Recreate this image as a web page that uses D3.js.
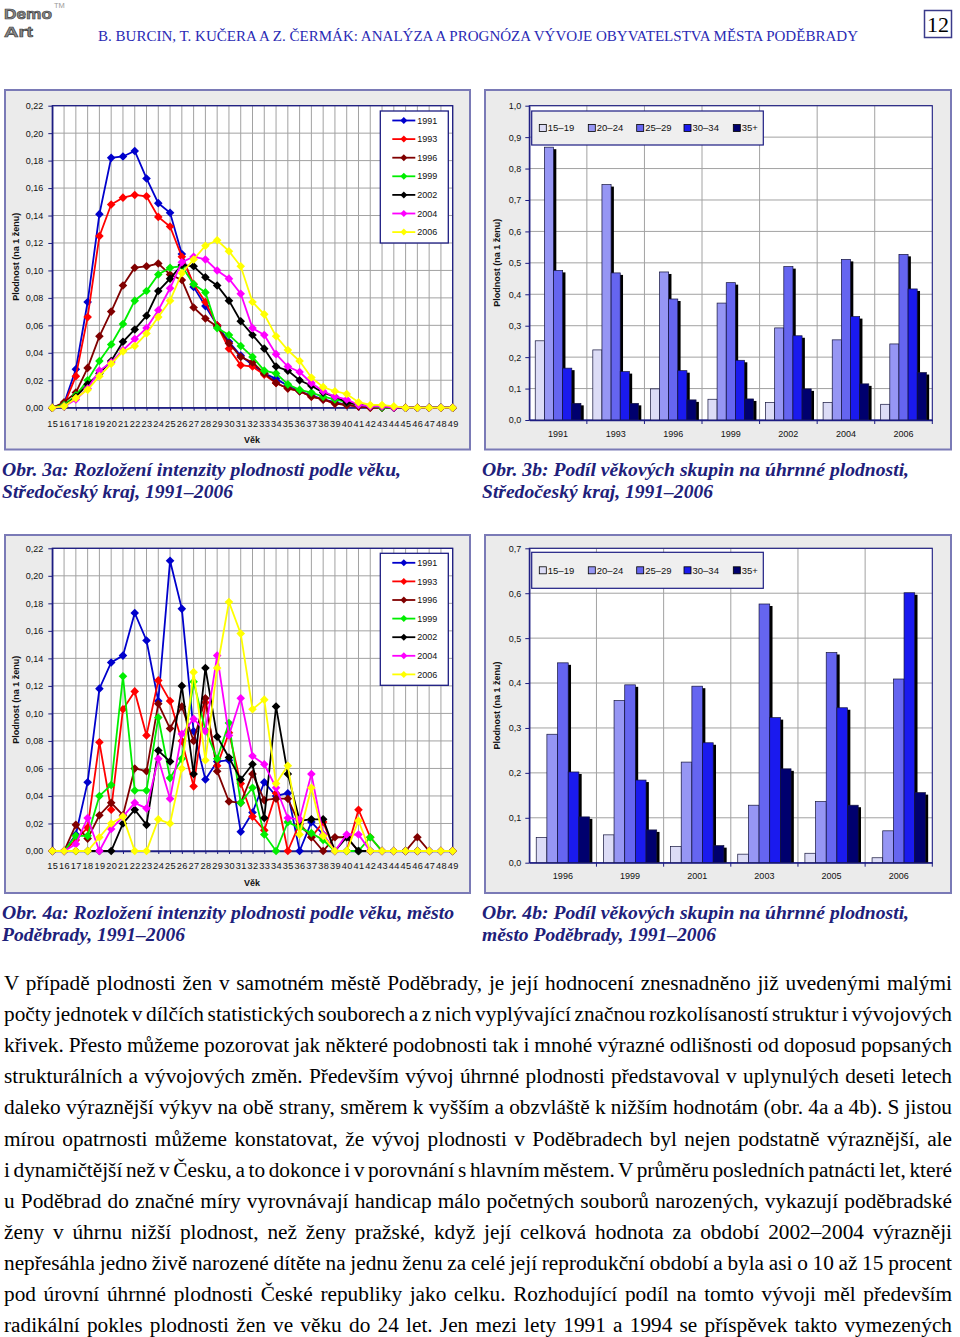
<!DOCTYPE html>
<html><head><meta charset="utf-8">
<script src="https://cdn.jsdelivr.net/npm/d3@7/dist/d3.min.js"></script>
<style>html,body{margin:0;padding:0;background:#fff}svg{display:block}</style>
</head><body>
<svg id="page" width="960" height="1337"></svg>
<script>
// ================= DATA =================
const ages = [15,16,17,18,19,20,21,22,23,24,25,26,27,28,29,30,31,32,33,34,35,36,37,38,39,40,41,42,43,44,45,46,47,48,49];
const lineYears = ["1991","1993","1996","1999","2002","2004","2006"];
const yTicksLine = [0,0.02,0.04,0.06,0.08,0.10,0.12,0.14,0.16,0.18,0.20,0.22];

// Obr. 3a – Středočeský kraj, fertility by age
const kraj1991 = [0,.003,.028,.077,.141,.182,.183,.187,.167,.149,.142,.112,.088,.074,.060,.048,.038,.031,.025,.021,.016,.012,.009,.006,.004,.002,.001,.001,0,0,0,0,0,0,0];
const kraj1993 = [0,.002,.023,.066,.125,.148,.153,.155,.154,.139,.132,.110,.090,.077,.060,.043,.031,.030,.024,.018,.014,.012,.008,.006,.003,.002,.001,0,0,0,0,0,0,0,0];
const kraj1996 = [0,.004,.011,.029,.052,.070,.089,.102,.103,.105,.097,.093,.073,.065,.059,.047,.037,.033,.025,.018,.014,.012,.008,.006,.003,.002,.001,0,0,0,0,0,0,0,0];
const kraj1999 = [0,.002,.009,.020,.034,.046,.061,.078,.085,.097,.102,.103,.090,.084,.058,.053,.045,.037,.027,.025,.017,.013,.011,.008,.006,.004,.002,.001,0,0,0,0,0,0,0];
const kraj2002 = [0,.001,.008,.017,.025,.034,.048,.057,.067,.085,.094,.104,.103,.095,.089,.078,.063,.053,.043,.030,.027,.020,.016,.011,.008,.004,.002,.001,.001,0,0,0,0,0,0];
const kraj2004 = [0,.001,.006,.014,.027,.033,.042,.050,.058,.071,.087,.106,.110,.108,.100,.094,.083,.058,.053,.039,.030,.026,.018,.012,.008,.006,.002,.001,.001,0,0,0,0,0,0];
const kraj2006 = [0,.001,.007,.013,.023,.032,.041,.045,.054,.066,.078,.098,.108,.118,.122,.114,.103,.077,.068,.052,.042,.034,.022,.015,.012,.010,.004,.002,.002,.001,0,0,0,0,0];

// Obr. 4a – město Poděbrady, fertility by age
const pod1991 = [0,0,.012,.050,.118,.137,.142,.173,.153,.109,.211,.176,.087,.052,.065,.066,.014,.028,.050,.040,.042,0,.021,.012,0,0,0,0,0,0,0,0,0,0,0];
const pod1993 = [0,0,.008,.017,.079,.030,.103,.116,.084,.124,.109,.080,.047,.108,.062,.086,.049,.025,.015,.042,0,.020,.010,.021,0,0,.030,.010,0,0,0,0,0,0,0];
const pod1996 = [0,0,.019,.009,.026,.035,.026,.060,.058,.107,.089,.105,.080,.111,.058,.036,.035,.056,.037,.038,.038,.019,.010,0,.010,.010,0,0,0,0,0,.010,0,0,0];
const pod1999 = [0,0,.011,.011,.040,.048,.127,.044,.044,.097,.053,.067,.123,.088,.067,.093,.035,.046,.012,0,.021,.017,.013,.008,0,0,0,.010,0,0,0,0,0,0,0];
const pod2002 = [0,0,0,0,0,0,.020,.030,.019,.073,.065,.120,.056,.133,.083,.068,.052,.063,.024,.105,.056,.022,.023,.023,0,.010,0,0,0,0,0,0,0,0,0];
const pod2004 = [0,0,.005,.024,0,.016,.025,.035,.031,.067,.038,.085,.096,.087,.142,.084,.111,.069,.063,.046,.024,.023,.056,.012,0,.012,.012,0,0,0,0,0,0,0,0];
const pod2006 = [0,0,0,0,.010,.020,.025,0,0,.023,.020,.060,.130,.066,.133,.181,.158,.103,.110,.049,.062,.012,.046,.011,0,0,.022,0,0,0,0,0,0,0,0];

// Obr. 3b – Středočeský kraj, share of age groups
const ageGroups = ["15–19","20–24","25–29","30–34","35+"];
const krajBarYears = ["1991","1993","1996","1999","2002","2004","2006"];
const yTicksKrajBar = [0,0.1,0.2,0.3,0.4,0.5,0.6,0.7,0.8,0.9,1.0];
const krajBar1519 = [0.252,0.223,0.099,0.066,0.056,0.056,0.050];
const krajBar2024 = [0.868,0.749,0.471,0.372,0.293,0.255,0.242];
const krajBar2529 = [0.476,0.468,0.385,0.437,0.488,0.511,0.527];
const krajBar3034 = [0.165,0.154,0.157,0.190,0.268,0.329,0.417];
const krajBar35 = [0.053,0.053,0.064,0.067,0.099,0.115,0.151];

// Obr. 4b – město Poděbrady, share of age groups
const podBarYears = ["1996","1999","2001","2003","2005","2006"];
const yTicksPodBar = [0,0.1,0.2,0.3,0.4,0.5,0.6,0.7];
const podBar1519 = [0.056,0.062,0.036,0.019,0.021,0.011];
const podBar2024 = [0.286,0.361,0.224,0.128,0.136,0.071];
const podBar2529 = [0.445,0.396,0.393,0.576,0.468,0.409];
const podBar3034 = [0.202,0.184,0.267,0.323,0.345,0.601];
const podBar35 = [0.102,0.073,0.038,0.209,0.128,0.156];

// ================= STYLE =================
const lineColors = ["#0000cc","#ff0000","#800000","#00ee00","#000000","#ff00ff","#ffff00"];
const groupColors = ["#dcdcf6","#9696f4","#6565f0","#1a1aee","#00006e"];
const SANS = "'Liberation Sans', Arial, sans-serif";
const SERIF = "'Liberation Serif', 'Times New Roman', serif";
const NAVY = "#1c1c82";
const svg = d3.select("#page");
const fmtComma = p => d => d3.format("." + p + "f")(d).replace(".", ",");

function styleAxis(a){
  a.select(".domain").attr("stroke", NAVY).attr("stroke-width", 1.3);
  a.selectAll(".tick line").attr("stroke", NAVY);
  a.selectAll("text").attr("font-family", SANS).attr("font-size", 9).attr("fill", "#111");
}
function frame(g, L){
  g.append("rect").attr("x", L.fx).attr("y", L.fy).attr("width", L.fw).attr("height", L.fh)
    .attr("fill", "#ebebeb").attr("stroke", "#7a7ab6").attr("stroke-width", 2);
}
function yTitle(g, x, y){
  g.append("text").attr("transform", `translate(${x},${y}) rotate(-90)`).attr("text-anchor", "middle")
    .attr("dominant-baseline", "central").attr("font-family", SANS).attr("font-size", 9)
    .attr("font-weight", "bold").attr("fill", "#111").text("Plodnost (na 1 ženu)");
}

function lineChart(L, series){
  const g = svg.append("g");
  frame(g, L);
  const x = d3.scaleLinear().domain([ages[0], ages[ages.length - 1]]).range([L.px0, L.px1]);
  const y = d3.scaleLinear().domain([0, d3.max(yTicksLine)]).range([L.py0, L.py1]);
  g.append("rect").attr("x", L.px0).attr("y", L.py1).attr("width", L.px1 - L.px0).attr("height", L.py0 - L.py1).attr("fill", "#fff");
  g.append("g").selectAll("line").data(yTicksLine.slice(1)).join("line")
    .attr("x1", L.px0).attr("x2", L.px1).attr("y1", d => y(d)).attr("y2", d => y(d)).attr("stroke", "#a2a2a2");
  g.append("g").selectAll("line").data(ages.slice(1)).join("line")
    .attr("x1", d => x(d)).attr("x2", d => x(d)).attr("y1", L.py1).attr("y2", L.py0).attr("stroke", "#a2a2a2");
  g.append("rect").attr("x", L.px0).attr("y", L.py1).attr("width", L.px1 - L.px0).attr("height", L.py0 - L.py1)
    .attr("fill", "none").attr("stroke", NAVY).attr("stroke-width", 1.3);
  const ya = g.append("g").attr("transform", `translate(${L.px0},0)`)
    .call(d3.axisLeft(y).tickValues(yTicksLine).tickFormat(fmtComma(2)).tickSizeInner(4).tickSizeOuter(0).tickPadding(5));
  const xa = g.append("g").attr("transform", `translate(0,${L.py0})`)
    .call(d3.axisBottom(x).tickValues(ages).tickFormat(d => d).tickSizeInner(3).tickSizeOuter(0).tickPadding(L.xpad));
  styleAxis(ya); styleAxis(xa);
  xa.selectAll("text").attr("font-size", 9.2).attr("letter-spacing", 0.4);
  const line = d3.line().x((d, i) => x(ages[i])).y(d => y(d));
  const diamond = "M0,-4.3L4.3,0L0,4.3L-4.3,0Z";
  series.forEach((s, k) => {
    g.append("path").datum(s).attr("d", line).attr("fill", "none").attr("stroke", lineColors[k]).attr("stroke-width", 1.8);
    g.append("g").selectAll("path").data(s).join("path")
      .attr("transform", (d, i) => `translate(${x(ages[i])},${y(d)})`).attr("d", diamond).attr("fill", lineColors[k]);
  });
  // legend
  g.append("rect").attr("x", L.lx).attr("y", L.ly).attr("width", 68).attr("height", 132)
    .attr("fill", "#fff").attr("stroke", NAVY).attr("stroke-width", 1.3);
  lineYears.forEach((yr, k) => {
    const cy = L.ly + 9.5 + k * 18.6;
    g.append("line").attr("x1", L.lx + 12).attr("x2", L.lx + 35).attr("y1", cy).attr("y2", cy)
      .attr("stroke", lineColors[k]).attr("stroke-width", 1.8);
    g.append("path").attr("transform", `translate(${L.lx + 23.5},${cy})`).attr("d", "M0,-3.5L3.5,0L0,3.5L-3.5,0Z").attr("fill", lineColors[k]);
    g.append("text").attr("x", L.lx + 37).attr("y", cy).attr("dy", "0.35em").attr("font-family", SANS)
      .attr("font-size", 9).attr("fill", "#111").text(yr);
  });
  g.append("text").attr("x", 252).attr("y", L.vekY).attr("text-anchor", "middle").attr("font-family", SANS)
    .attr("font-size", 9).attr("font-weight", "bold").attr("fill", "#111").text("Věk");
  yTitle(g, 16, (L.py0 + L.py1) / 2);
}

function barChart(L, years, groupsData, yTicks){
  const g = svg.append("g");
  frame(g, L);
  const x = d3.scaleBand().domain(years).range([L.px0, L.px1]);
  const inner = d3.scaleBand().domain(ageGroups).range([0, x.bandwidth()]).paddingOuter(0.65).paddingInner(0);
  const y = d3.scaleLinear().domain([0, d3.max(yTicks)]).range([L.py0, L.py1]);
  g.append("rect").attr("x", L.px0).attr("y", L.py1).attr("width", L.px1 - L.px0).attr("height", L.py0 - L.py1).attr("fill", "#fff");
  g.append("g").selectAll("line").data(yTicks.slice(1)).join("line")
    .attr("x1", L.px0).attr("x2", L.px1).attr("y1", d => y(d)).attr("y2", d => y(d)).attr("stroke", "#a2a2a2");
  g.append("g").selectAll("line").data(years.slice(1)).join("line")
    .attr("x1", d => x(d)).attr("x2", d => x(d)).attr("y1", L.py1).attr("y2", L.py0).attr("stroke", "#a2a2a2");
  g.append("rect").attr("x", L.px0).attr("y", L.py1).attr("width", L.px1 - L.px0).attr("height", L.py0 - L.py1)
    .attr("fill", "none").attr("stroke", NAVY).attr("stroke-width", 1.1);
  // bars with shadow
  years.forEach((yr, i) => {
    ageGroups.forEach((ag, k) => {
      const v = groupsData[k][i];
      const bx = x(yr) + inner(ag), bw = inner.bandwidth(), by = y(v), bh = L.py0 - y(v);
      g.append("rect").attr("x", bx + 2.8).attr("y", by + 2).attr("width", bw).attr("height", Math.max(0, bh - 2)).attr("fill", "#000");
      g.append("rect").attr("x", bx).attr("y", by).attr("width", bw).attr("height", bh)
        .attr("fill", groupColors[k]).attr("stroke", "#14143c").attr("stroke-width", 0.7);
    });
  });
  const ya = g.append("g").attr("transform", `translate(${L.px0},0)`)
    .call(d3.axisLeft(y).tickValues(yTicks).tickFormat(fmtComma(1)).tickSizeInner(4).tickSizeOuter(0).tickPadding(4));
  const xa = g.append("g").attr("transform", `translate(0,${L.py0})`)
    .call(d3.axisBottom(x).tickSizeInner(0).tickSizeOuter(0).tickPadding(L.xpad));
  styleAxis(ya); styleAxis(xa);
  xa.selectAll("text").attr("font-size", 9);
  g.append("g").selectAll("line").data(years.slice(1).concat(["__end"])).join("line")
    .attr("x1", d => d === "__end" ? L.px1 : x(d)).attr("x2", d => d === "__end" ? L.px1 : x(d))
    .attr("y1", L.py0).attr("y2", L.py0 + 4).attr("stroke", NAVY);
  // legend
  g.append("rect").attr("x", L.lx).attr("y", L.ly).attr("width", 231.6).attr("height", L.lh)
    .attr("fill", "#efefef").attr("stroke", NAVY).attr("stroke-width", 1.2);
  const offs = [7.6, 56.6, 105, 152.3, 201.6];
  ageGroups.forEach((ag, k) => {
    const cy = L.ly + L.lh / 2;
    g.append("rect").attr("x", L.lx + offs[k]).attr("y", cy - 3.5).attr("width", 7).attr("height", 7)
      .attr("fill", groupColors[k]).attr("stroke", "#000").attr("stroke-width", 0.8);
    g.append("text").attr("x", L.lx + offs[k] + 8.5).attr("y", cy).attr("dy", "0.35em").attr("font-family", SANS)
      .attr("font-size", 9.5).attr("fill", "#111").text(ag);
  });
  yTitle(g, 497, (L.py0 + L.py1) / 2);
}

// ================= HEADER =================
const hdr = svg.append("g");
hdr.append("text").attr("x", 4).attr("y", 19).attr("font-family", SANS).attr("font-weight", "bold").attr("font-size", 15)
  .attr("fill", "#8a8a8a").attr("stroke", "#3a3a3a").attr("stroke-width", 0.6).attr("textLength", 48).attr("lengthAdjust", "spacingAndGlyphs").text("Demo");
hdr.append("text").attr("x", 4).attr("y", 37).attr("font-family", SANS).attr("font-weight", "bold").attr("font-size", 15)
  .attr("fill", "#8a8a8a").attr("stroke", "#3a3a3a").attr("stroke-width", 0.6).attr("textLength", 29).attr("lengthAdjust", "spacingAndGlyphs").text("Art");
hdr.append("text").attr("x", 54).attr("y", 8).attr("font-family", SANS).attr("font-size", 7.5).attr("fill", "#999").text("TM");
hdr.append("text").attr("x", 98).attr("y", 41).attr("font-family", SERIF).attr("font-size", 14.5).attr("fill", "#2a2ab4")
  .attr("textLength", 760).attr("lengthAdjust", "spacingAndGlyphs")
  .text("B. BURCIN, T. KUČERA A Z. ČERMÁK: ANALÝZA A PROGNÓZA VÝVOJE OBYVATELSTVA MĚSTA PODĚBRADY");
hdr.append("rect").attr("x", 924.5).attr("y", 10.5).attr("width", 27).attr("height", 27).attr("fill", "none").attr("stroke", "#3a3a8a").attr("stroke-width", 1.5);
hdr.append("text").attr("x", 938).attr("y", 32).attr("text-anchor", "middle").attr("font-family", SERIF).attr("font-size", 22).attr("fill", "#000").text("12");

// ================= CHARTS =================
lineChart({fx:5, fy:90, fw:465, fh:359.5, px0:52.3, px1:452.7, py0:407.7, py1:105.7, xpad:9.5, lx:380.3, ly:111, vekY:443},
  [kraj1991, kraj1993, kraj1996, kraj1999, kraj2002, kraj2004, kraj2006]);
barChart({fx:485, fy:90, fw:466, fh:359.5, px0:529.3, px1:932.3, py0:420, py1:105.7, xpad:10.6, lx:531.7, ly:111, lh:34},
  krajBarYears, [krajBar1519, krajBar2024, krajBar2529, krajBar3034, krajBar35], yTicksKrajBar);
lineChart({fx:5, fy:535, fw:465, fh:358, px0:52.3, px1:452.7, py0:851, py1:548.3, xpad:8, lx:380.3, ly:553.3, vekY:886},
  [pod1991, pod1993, pod1996, pod1999, pod2002, pod2004, pod2006]);
barChart({fx:485, fy:535, fw:466, fh:358, px0:529.3, px1:932.3, py0:862.7, py1:548.3, xpad:10.4, lx:531.7, ly:552.3, lh:36},
  podBarYears, [podBar1519, podBar2024, podBar2529, podBar3034, podBar35], yTicksPodBar);

// ================= CAPTIONS =================
const captions = [
  ["Obr. 3a: Rozložení intenzity plodnosti podle věku,", 2, 476, 399],
  ["Středočeský kraj, 1991–2006", 2, 498, 231],
  ["Obr. 3b: Podíl věkových skupin na úhrnné plodnosti,", 482, 476, 427],
  ["Středočeský kraj, 1991–2006", 482, 498, 231],
  ["Obr. 4a: Rozložení intenzity plodnosti podle věku, město", 2, 919, 452],
  ["Poděbrady, 1991–2006", 2, 941, 183],
  ["Obr. 4b: Podíl věkových skupin na úhrnné plodnosti,", 482, 919, 427],
  ["město Poděbrady, 1991–2006", 482, 941, 234]
];
svg.append("g").selectAll("text").data(captions).join("text")
  .attr("x", d => d[1]).attr("y", d => d[2]).attr("textLength", d => d[3]).attr("lengthAdjust", "spacingAndGlyphs")
  .attr("font-family", SERIF).attr("font-style", "italic").attr("font-weight", "bold").attr("font-size", 18.5)
  .attr("fill", "#20207a").text(d => d[0]);

// ================= BODY TEXT =================
const bodyLines = [
  "V případě plodnosti žen v samotném městě Poděbrady, je její hodnocení znesnadněno již uvedenými malými",
  "počty jednotek v dílčích statistických souborech a z nich vyplývající značnou rozkolísaností struktur i vývojových",
  "křivek. Přesto můžeme pozorovat jak některé podobnosti tak i mnohé výrazné odlišnosti od doposud popsaných",
  "strukturálních a vývojových změn. Především vývoj úhrnné plodnosti představoval v uplynulých deseti letech",
  "daleko výraznější výkyv na obě strany, směrem k vyšším a obzvláště k nižším hodnotám (obr. 4a a 4b). S jistou",
  "mírou opatrnosti můžeme konstatovat, že vývoj plodnosti v Poděbradech byl nejen podstatně výraznější, ale",
  "i dynamičtější než v Česku, a to dokonce i v porovnání s hlavním městem. V průměru posledních patnácti let, které",
  "u Poděbrad do značné míry vyrovnávají handicap málo početných souborů narozených, vykazují poděbradské",
  "ženy v úhrnu nižší plodnost, než ženy pražské, když její celková hodnota za období 2002–2004 výrazněji",
  "nepřesáhla jedno živě narozené dítěte na jednu ženu za celé její reprodukční období a byla asi o 10 až 15 procent",
  "pod úrovní úhrnné plodnosti České republiky jako celku. Rozhodující podíl na tomto vývoji měl především",
  "radikální pokles plodnosti žen ve věku do 24 let. Jen mezi lety 1991 a 1994 se příspěvek takto vymezených"
];
const body = svg.append("g");
bodyLines.forEach((t, i) => {
  const el = body.append("text").attr("x", 4).attr("y", 990 + i * 31.1).attr("font-family", SERIF)
    .attr("font-size", 21.3).attr("fill", "#000").text(t);
  const w = el.node().getComputedTextLength();
  const spaces = (t.match(/ /g) || []).length;
  if (spaces > 0) el.attr("word-spacing", (948 - w) / spaces);
});
</script>
</body></html>
